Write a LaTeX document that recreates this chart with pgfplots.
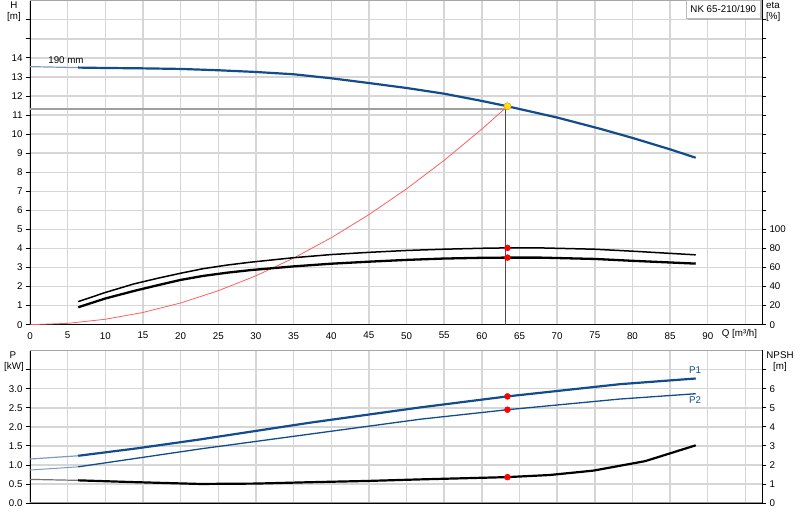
\documentclass[border=0pt]{standalone}
\usepackage{fontspec}
\setmainfont{Liberation Sans}
\usepackage{pgfplots}
\pgfplotsset{compat=1.18}

\definecolor{curveblue}{RGB}{18,76,140}
\definecolor{gridgray}{RGB}{214,214,214}
\definecolor{syscurve}{RGB}{255,95,95}
\definecolor{opyellow}{RGB}{255,228,0}
\definecolor{oporange}{RGB}{240,150,60}

\pgfplotsset{
  base/.style={
    scale only axis, width=732bp, xmin=0, xmax=97.2,
    /pgf/number format/assume math mode=true,
    font=\fontsize{9.8}{11}\selectfont,
    tick align=outside, major tick length=4bp,
    tick style={black, line width=0.8bp},
    xtick style={draw=none},
    axis line style={black, line width=1bp},
    xtick={0,5,...,95},
  },
  overlay/.style={
    base, axis x line=none, axis y line*=right, xtick=\empty,
  },
}

\begin{document}
\begin{tikzpicture}

% ---- top: head and efficiency
\begin{axis}[base, at={(30bp,195.3bp)}, anchor=south west, height=324bp,
    ymin=0, ymax=17, ytick={0,...,16},
    yticklabels={0,1,2,3,4,5,6,7,8,9,10,11,12,13,14,,},
    xticklabels={0,5,10,15,20,25,30,35,40,45,50,55,60,65,70,75,80,85,90,},
    grid=major, major grid style={gridgray, line width=1.4bp}]
  % duty point lines
  \addplot[gray!75, line width=1.8bp] coordinates {(0,11.33) (63.1,11.33)};
  \addplot[black!70, line width=0.9bp] coordinates {(63.1,11.33) (63.1,0)};
  % system curve
  \addplot[syscurve, line width=0.8bp] coordinates {
    (0,0) (5,0.071) (10,0.285) (15,0.641) (20,1.140) (25,1.782) (30,2.566)
    (35,3.493) (40,4.562) (45,5.773) (50,7.128) (55,8.624) (60,10.263) (63.4,11.46)};
  % pump curve H
  \addplot[curveblue!55, line width=1.2bp] coordinates {(0,13.54) (6.4,13.49)};
  \addplot[curveblue, line width=2.2bp] coordinates {
    (6.4,13.49) (10,13.47) (15,13.45) (20,13.42) (25,13.35) (30,13.26)
    (35,13.14) (40,12.93) (45,12.68) (50,12.42) (55,12.12) (60,11.74)
    (63.4,11.46) (70,10.87) (75.7,10.28) (80,9.80) (85,9.20) (88.4,8.76)};
  \addplot[only marks, mark=*, mark size=3.6bp, mark options={fill=opyellow, draw=oporange, line width=0.6bp}]
    coordinates {(63.4,11.46)};
\end{axis}

\begin{axis}[overlay, at={(30bp,195.3bp)}, anchor=south west, height=324bp,
    ymin=0, ymax=340, ytick={0,20,...,100}]
  \addplot[black, line width=1.5bp] coordinates {
    (6.4,24.2) (10,33.8) (13.8,42.8) (17,48.8) (20,54) (23,58.8) (26.2,62.6)
    (29.3,65.6) (35,70.3) (40,73.6) (45.2,76) (50,77.9) (54.9,79.2) (60,80.2)
    (63.3,80.6) (67.7,80.6) (75,79.2) (80.1,77.1) (88.4,73.3)};
  \addplot[black, line width=2.3bp] coordinates {
    (6.4,18.3) (10,27.5) (13.8,35.4) (17,41.5) (20,47) (23,51.2) (26.2,54.6)
    (29.3,57.3) (35,61.2) (40,64) (45.2,66.2) (50,68) (54.9,69.4) (60,70.2)
    (63.3,70.4) (67.7,70.4) (75,69) (80.1,67) (88.4,64.1)};
  \addplot[only marks, mark=*, mark size=3bp, color=red] coordinates {(63.4,80.6) (63.4,70.4)};
\end{axis}

% ---- bottom: power and NPSH
\begin{axis}[base, at={(30bp,17bp)}, anchor=south west, height=152.3bp,
    ymin=0, ymax=4, ytick={0,0.5,...,3.5},
    yticklabels={0.0,0.5,1.0,1.5,2.0,2.5,3.0,},
    xticklabels={{}},
    grid=major, major grid style={gridgray, line width=1.4bp}]
  \addplot[curveblue!55, line width=1.2bp] coordinates {(0,1.155) (6.4,1.24)};
  \addplot[curveblue, line width=2.2bp] coordinates {
    (6.4,1.24) (14,1.43) (22.6,1.67) (37.2,2.11) (51.8,2.51) (63.4,2.80)
    (78.3,3.12) (88.4,3.27)};
  \addplot[curveblue!55, line width=1bp] coordinates {(0,0.866) (6.4,0.95)};
  \addplot[curveblue, line width=1.3bp] coordinates {
    (6.4,0.95) (14,1.17) (22.6,1.42) (37.2,1.81) (51.8,2.20) (63.4,2.45)
    (78.3,2.73) (88.4,2.87)};
  \addplot[only marks, mark=*, mark size=3bp, color=red] coordinates {(63.4,2.80) (63.4,2.45)};
\end{axis}

\begin{axis}[overlay, at={(30bp,17bp)}, anchor=south west, height=152.3bp,
    ymin=0, ymax=8, ytick={0,...,7}, yticklabels={0,1,2,3,4,5,6,}]
  \addplot[black!55, line width=1.2bp] coordinates {(0,1.24) (6.4,1.19)};
  \addplot[black, line width=2.2bp] coordinates {
    (6.4,1.19) (13.5,1.10) (22.6,1.00) (30,1.02) (37,1.09) (45,1.16)
    (51.8,1.24) (63.4,1.36) (69,1.47) (74.8,1.70) (81.7,2.20) (88.4,3.03)};
  \addplot[only marks, mark=*, mark size=3bp, color=red] coordinates {(63.4,1.36)};
\end{axis}

% frame edges drawn lighter
\draw[gray!70, line width=1bp] (30bp,519.3bp) -- (762bp,519.3bp);
\draw[gray!70, line width=1bp] (30bp,169.3bp) -- (762bp,169.3bp);
\draw[gray!85, line width=1bp] (30bp,17bp) -- (762bp,17bp);

% labels
\begin{scope}[font=\fontsize{9.8}{11}\selectfont]
  \node at (14bp,515.3bp) {H};
  \node at (14bp,503.3bp) {[m]};
  \node[anchor=west, inner sep=0] at (766bp,514.7bp) {eta};
  \node[anchor=west, inner sep=0] at (766bp,502.7bp) {[\%]};
  \node at (13bp,165bp) {P};
  \node at (14bp,153.3bp) {[kW]};
  \node at (780bp,165bp) {NPSH};
  \node at (780bp,153.3bp) {[m]};
  \node at (66bp,460bp) {190 mm};
  \node at (739.5bp,185.7bp) {Q [m³/h]};
  \node[text=curveblue] at (695bp,150bp) {P1};
  \node[text=curveblue] at (695bp,120bp) {P2};
  \fill[gray!60] (688bp,500bp) rectangle (762bp,519bp);
  \filldraw[fill=white, draw=gray!55, line width=0.8bp] (686bp,501.5bp) rectangle (760.5bp,519.3bp);
  \node at (723.3bp,510.5bp) {NK 65-210/190};
\end{scope}

\pgfresetboundingbox
\useasboundingbox (0bp,0bp) rectangle (800bp,520bp);
\end{tikzpicture}
\end{document}
